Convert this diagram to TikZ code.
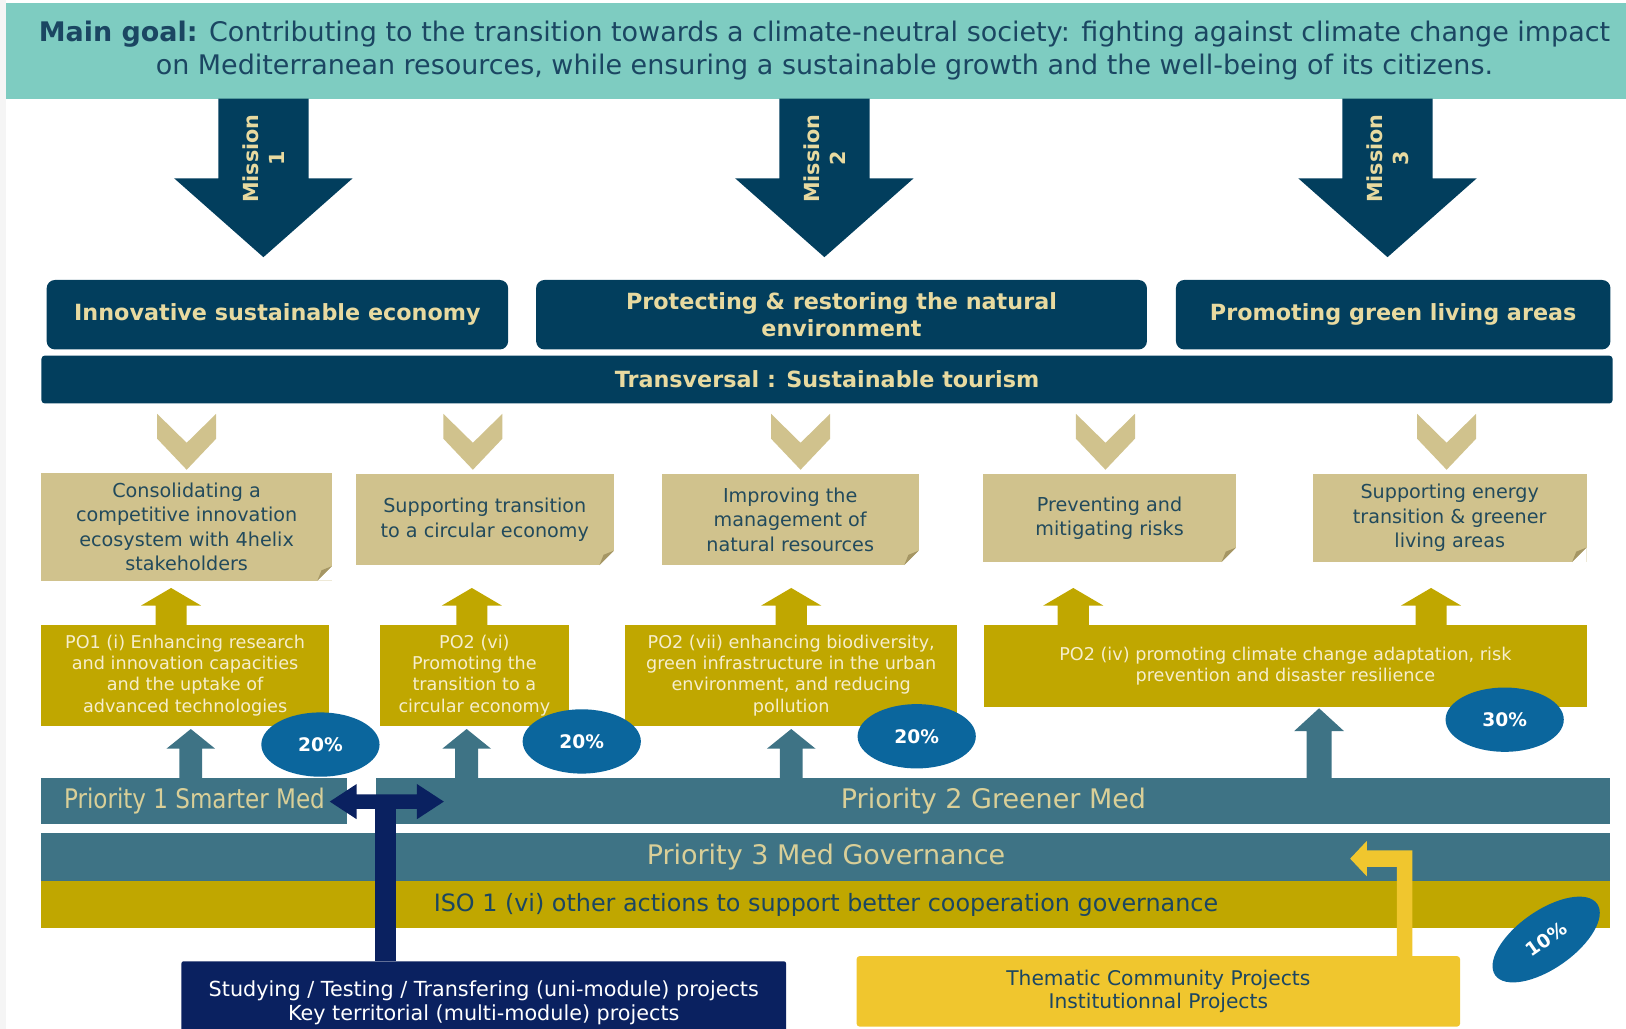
\documentclass[tikz,border=0pt]{standalone}
\usepackage{fontspec}
\setmainfont{DejaVu Sans}
\newfontfamily\narrowfont[FakeStretch=0.855]{DejaVu Sans}
\usetikzlibrary{shapes.geometric}

\definecolor{bannerteal}{RGB}{126,204,193}
\definecolor{goalnavy}{RGB}{27,70,98}
\definecolor{missionnavy}{RGB}{2,62,93}
\definecolor{sand}{RGB}{232,218,160}
\definecolor{khaki}{RGB}{208,194,141}
\definecolor{khakidark}{RGB}{165,150,100}
\definecolor{khakitext}{RGB}{34,74,92}
\definecolor{gold}{RGB}{192,167,0}
\definecolor{cream}{RGB}{246,238,205}
\definecolor{ovalblue}{RGB}{11,102,157}
\definecolor{steelteal}{RGB}{62,115,133}
\definecolor{priotext}{RGB}{217,207,152}
\definecolor{deepnavy}{RGB}{10,33,96}
\definecolor{sunyellow}{RGB}{240,198,46}

% block arrow: style, x, base y, head base y, tip y, shaft width, head width
\newcommand{\blockarrow}[7]{%
  \fill[#1] ({#2-#6/2},#3) -- ({#2-#6/2},#4) -- ({#2-#7/2},#4) -- (#2,#5)
    -- ({#2+#7/2},#4) -- ({#2+#6/2},#4) -- ({#2+#6/2},#3) -- cycle;}

\tikzset{
  banner/.style={rectangle, fill=bannerteal, text=goalnavy, inner sep=0pt,
    align=center, font=\fontsize{26}{32}\selectfont},
  missiontext/.style={rotate=90, text=sand, align=center, inner sep=0pt,
    font=\bfseries\fontsize{20}{25}\selectfont},
  missionbox/.style={rectangle, rounded corners=8pt, fill=missionnavy, text=sand,
    inner sep=0pt, align=center, font=\bfseries\fontsize{21.5}{26}\selectfont},
  note/.style={rectangle, fill=khaki, text=khakitext, inner sep=0pt, align=center,
    font=\fontsize{18.5}{23.5}\selectfont,
    path picture={
      \fill[white] ([xshift=-14pt]path picture bounding box.south east)
        -- (path picture bounding box.south east)
        -- ([yshift=14pt]path picture bounding box.south east) -- cycle;
      \fill[khakidark] ([xshift=-14pt]path picture bounding box.south east)
        -- ([yshift=14pt]path picture bounding box.south east)
        -- ([xshift=-10pt,yshift=10pt]path picture bounding box.south east) -- cycle;}},
  pobox/.style={rectangle, fill=gold, text=cream, inner sep=0pt, align=center,
    font=\fontsize{17}{20.3}\selectfont},
  prio/.style={rectangle, fill=steelteal, text=priotext, inner sep=0pt,
    font=\fontsize{26}{30}\selectfont},
  share/.style={ellipse, fill=ovalblue, text=white, inner sep=0pt,
    minimum width=114pt, minimum height=62pt, font=\bfseries\fontsize{18}{20}\selectfont},
}

\begin{document}
\begin{tikzpicture}[x=1pt, y=-1pt]
  \useasboundingbox (0,0) rectangle (1568,992);
  \clip (0,0) rectangle (1568,992);
  \fill[gray!8] (0,0) rectangle (6,992);

  % Drawing the main goal banner
  \node[banner, minimum width=1578pt, minimum height=92pt] (goal) at (795,49)
    {\textbf{Main goal:} Contributing to the transition towards a climate-neutral society: fighting against climate change impact\\
     on Mediterranean resources, while ensuring a sustainable growth and the well-being of its citizens.};

  % Drawing the three missions
  \foreach \mx/\num in {254/1, 795/2, 1338/3} {
    \blockarrow{missionnavy}{\mx}{95}{172}{248}{87}{172}
    \node[missiontext] (mission\num) at (\mx,153) {Mission\\\num};
  }

  % Drawing the mission boxes and the transversal bar
  \node[missionbox, minimum width=445pt, minimum height=67pt] (economy) at (267.5,303.5)
    {Innovative sustainable economy};
  \node[missionbox, minimum width=589pt, minimum height=67pt] (nature) at (811.5,303.5)
    {Protecting \& restoring the natural\\environment};
  \node[missionbox, minimum width=419pt, minimum height=67pt] (living) at (1343.5,303.5)
    {Promoting green living areas};
  \node[missionbox, rounded corners=3pt, minimum width=1515pt, minimum height=46pt] (tourism) at (797.5,366)
    {Transversal : Sustainable tourism};

  % Drawing the chevrons
  \foreach \cx in {180,456,772,1066,1395}
    \fill[khaki] (\cx-28.5,399) -- (\cx,427) -- (\cx+28.5,399) -- (\cx+28.5,423)
      -- (\cx,453) -- (\cx-28.5,423) -- cycle;

  % Drawing the specific aims
  \node[note, minimum width=280pt, minimum height=104pt] (aim1) at (180,508)
    {Consolidating a\\competitive innovation\\ecosystem with 4helix\\stakeholders};
  \node[note, minimum width=249pt, minimum height=88pt] (aim2) at (467.5,501)
    {Supporting transition\\to a circular economy};
  \node[note, minimum width=248pt, minimum height=88pt] (aim3) at (762,501)
    {Improving the\\management of\\natural resources};
  \node[note, minimum width=244pt, minimum height=85pt] (aim4) at (1070,499.5)
    {Preventing and\\mitigating risks};
  \node[note, minimum width=264pt, minimum height=85pt] (aim5) at (1398,499.5)
    {Supporting energy\\transition \& greener\\living areas};

  % Drawing the gold arrows
  \foreach \gx in {165,455,763,1035,1380} {
    \blockarrow{gold}{\gx}{604}{584}{567}{30}{58}
  }

  % Drawing the policy objectives
  \node[pobox, minimum width=277pt, minimum height=97pt] (po1) at (178.5,651.5)
    {PO1 (i) Enhancing research\\and innovation capacities\\and the uptake of\\advanced technologies};
  \node[pobox, minimum width=183pt, minimum height=97pt] (po2) at (457.5,651.5)
    {PO2 (vi)\\Promoting the\\transition to a\\circular economy};
  \node[pobox, minimum width=320pt, minimum height=97pt] (po3) at (763,651.5)
    {PO2 (vii) enhancing biodiversity,\\green infrastructure in the urban\\environment, and reducing\\pollution};
  \node[pobox, minimum width=581pt, minimum height=79pt] (po4) at (1239.5,642.5)
    {PO2 (iv) promoting climate change adaptation, risk\\prevention and disaster resilience};

  % Drawing the teal arrows
  \foreach \tx in {184,450,763} {
    \blockarrow{steelteal}{\tx}{751}{722}{703}{22}{47}
  }
  \blockarrow{steelteal}{1272}{751}{705}{683}{24}{48}

  % Drawing the budget shares
  \node[share] (share1) at (309,718) {20\%};
  \node[share] (share2) at (561,715) {20\%};
  \node[share] (share3) at (884,710) {20\%};
  \node[share] (share4) at (1451,694) {30\%};

  % Drawing the priorities
  \node[prio, minimum width=295pt, minimum height=45pt] (prio1) at (187.5,772.5)
    {\narrowfont Priority 1 Smarter Med};
  \node[prio, minimum width=1190pt, minimum height=45pt] (prio2) at (958,772.5)
    {Priority 2 Greener Med};
  \node[prio, minimum width=1513pt, minimum height=47pt] (prio3) at (796.5,826.5)
    {Priority 3 Med Governance};
  \node[rectangle, fill=gold, text=goalnavy, inner sep=0pt, minimum width=1513pt,
    minimum height=45pt, font=\fontsize{23}{27}\selectfont] (iso) at (796.5,872.5)
    {ISO 1 (vi) other actions to support better cooperation governance};
  \node[share, rotate=35, minimum width=120pt, minimum height=56pt] (share5) at (1491,906) {10\%};

  % Drawing the project types
  \node[rectangle, rounded corners=2pt, fill=deepnavy, text=white, inner sep=0pt, align=center,
    minimum width=583pt, minimum height=80pt, font=\fontsize{20}{23}\selectfont] (modules) at (466.5,967)
    {Studying / Testing / Transfering (uni-module) projects\\Key territorial (multi-module) projects};
  \node[rectangle, rounded corners=3pt, fill=sunyellow, text=goalnavy, inner sep=0pt, align=center,
    minimum width=582pt, minimum height=68pt, font=\fontsize{19.5}{23}\selectfont] (thematic) at (1117,956)
    {Thematic Community Projects\\Institutionnal Projects};

  % Drawing the navy double arrow
  \fill[deepnavy] (362,927) -- (362,779) -- (382,779) -- (382,927) -- cycle;
  \fill[deepnavy] (318,773) -- (344,756) -- (344,766) -- (402,766) -- (402,756) -- (428,773)
    -- (402,790) -- (402,780) -- (344,780) -- (344,790) -- cycle;

  % Drawing the yellow elbow arrow
  \fill[sunyellow] (1347,922) -- (1347,836) -- (1318,836) -- (1318,845) -- (1302,828)
    -- (1318,811) -- (1318,820) -- (1362,820) -- (1362,922) -- cycle;
\end{tikzpicture}
\end{document}
